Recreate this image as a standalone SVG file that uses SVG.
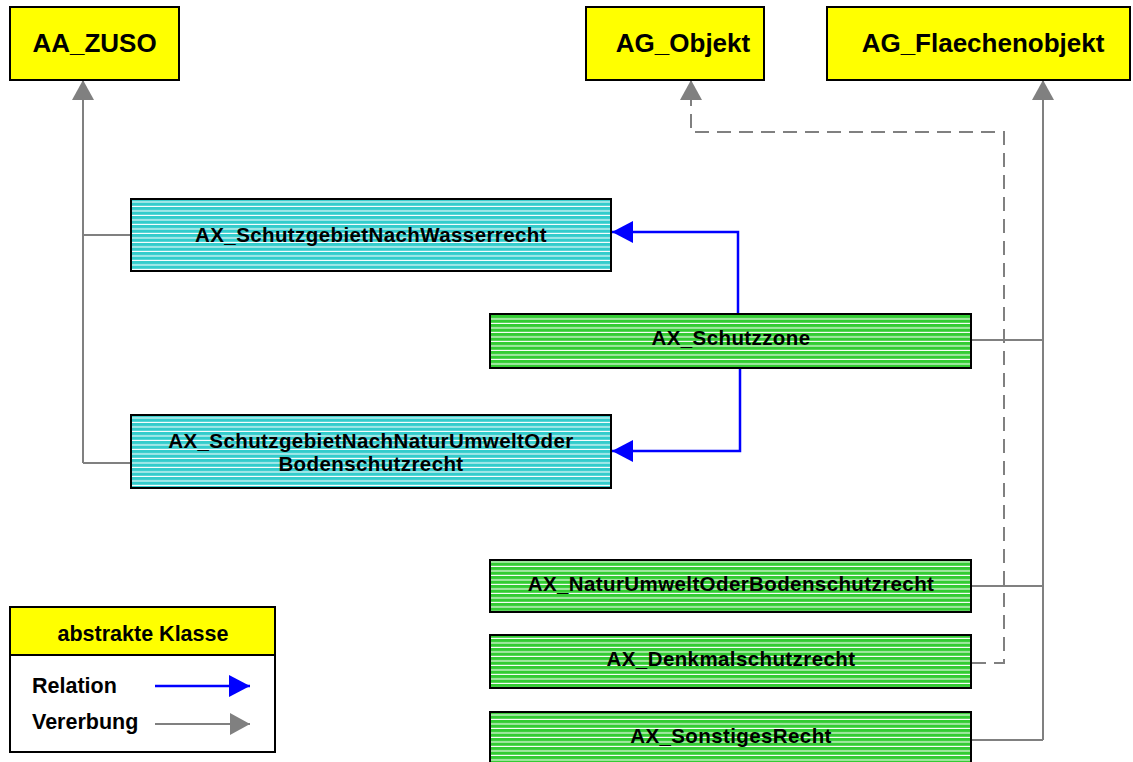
<svg xmlns="http://www.w3.org/2000/svg" width="1133" height="762" viewBox="0 0 1133 762">
<style>
  .box { stroke: #000; stroke-width: 2; }
  .abs { fill: #FFFF00; }
  .teal { fill: url(#stripeTeal); }
  .green { fill: url(#stripeGreen); }
  .t1 { font-family: "Liberation Sans", Arial, sans-serif; font-weight: bold; font-size: 26px; text-anchor: middle; fill: #000; }
  .t2 { font-family: "Liberation Sans", Arial, sans-serif; font-weight: bold; font-size: 20.5px; text-anchor: middle; fill: #000; letter-spacing: 0.4px; }
  .t3 { font-family: "Liberation Sans", Arial, sans-serif; font-weight: bold; font-size: 21.5px; fill: #000; }
  .gen { fill: none; stroke: #808080; stroke-width: 2; }
  .dash { fill: none; stroke: #808080; stroke-width: 2; stroke-dasharray: 14 8; }
  .rel { fill: none; stroke: #0000FF; stroke-width: 2.5; }
</style>
<defs>
  <pattern id="stripeTeal" patternUnits="userSpaceOnUse" width="10" height="4.5">
    <rect width="10" height="4.5" fill="#33CCCC"/>
    <rect y="3.4" width="10" height="1.1" fill="#FFFFFF"/>
  </pattern>
  <pattern id="stripeGreen" patternUnits="userSpaceOnUse" width="10" height="4.5">
    <rect width="10" height="4.5" fill="#33CC33"/>
    <rect y="3.4" width="10" height="1.1" fill="#FFFFFF"/>
  </pattern>
  <marker id="arrGray" markerUnits="userSpaceOnUse" markerWidth="22" markerHeight="22" refX="20" refY="11" orient="auto">
    <path d="M0,0 L20,11 L0,22 Z" fill="#808080"/>
  </marker>
  <marker id="arrBlue" markerUnits="userSpaceOnUse" markerWidth="22" markerHeight="22" refX="21" refY="11" orient="auto">
    <path d="M0,0 L21,11 L0,22 Z" fill="#0000FF"/>
  </marker>
</defs>
<rect width="1133" height="762" fill="#FFFFFF"/>

<g id="connectors">
  <path class="gen" d="M131,235 H83 M131,463 H83"/>
  <path class="gen" d="M83,463 V80" marker-end="url(#arrGray)"/>
  <path class="dash" d="M972,663 H1004 V132 H691 V100"/>
  <path class="gen" d="M691,104 V80" marker-end="url(#arrGray)"/>
  <path class="gen" d="M971,340 H1043 M971,586 H1043 M971,740 H1043"/>
  <path class="gen" d="M1043,740 V80" marker-end="url(#arrGray)"/>
  <path class="rel" d="M738,314 V232 H612" marker-end="url(#arrBlue)"/>
  <path class="rel" d="M740,368 V451 H612" marker-end="url(#arrBlue)"/>
</g>

<g id="AA_ZUSO">
  <rect class="box abs" x="10" y="7" width="169" height="73"/>
  <text class="t1" x="94.5" y="52">AA_ZUSO</text>
</g>
<g id="AG_Objekt">
  <rect class="box abs" x="586" y="7" width="178" height="73"/>
  <text class="t1" x="683" y="52">AG_Objekt</text>
</g>
<g id="AG_Flaechenobjekt">
  <rect class="box abs" x="827" y="7" width="303" height="73"/>
  <text class="t1" x="983" y="52">AG_Flaechenobjekt</text>
</g>

<g id="AX_SchutzgebietNachWasserrecht">
  <rect class="box teal" x="131" y="199" width="480" height="72"/>
  <text class="t2" x="371" y="242">AX_SchutzgebietNachWasserrecht</text>
</g>
<g id="AX_SchutzgebietNachNaturUmweltOderBodenschutzrecht">
  <rect class="box teal" x="131" y="415" width="480" height="73"/>
  <text class="t2" x="371" y="448">AX_SchutzgebietNachNaturUmweltOder</text>
  <text class="t2" x="371" y="471">Bodenschutzrecht</text>
</g>
<g id="AX_Schutzzone">
  <rect class="box green" x="490" y="314" width="481" height="54"/>
  <text class="t2" x="731" y="345">AX_Schutzzone</text>
</g>
<g id="AX_NaturUmweltOderBodenschutzrecht">
  <rect class="box green" x="490" y="560" width="481" height="52"/>
  <text class="t2" x="731" y="591">AX_NaturUmweltOderBodenschutzrecht</text>
</g>
<g id="AX_Denkmalschutzrecht">
  <rect class="box green" x="490" y="635" width="481" height="53"/>
  <text class="t2" x="731" y="666">AX_Denkmalschutzrecht</text>
</g>
<g id="AX_SonstigesRecht">
  <rect class="box green" x="490" y="712" width="481" height="60"/>
  <text class="t2" x="731" y="743">AX_SonstigesRecht</text>
</g>

<g id="legend">
  <rect x="10" y="607" width="265" height="145" fill="#FFFFFF" stroke="#000" stroke-width="2"/>
  <rect x="10" y="607" width="265" height="48" fill="#FFFF00" stroke="#000" stroke-width="2"/>
  <text class="t3" x="143" y="641" text-anchor="middle">abstrakte Klasse</text>
  <text class="t3" x="32" y="693">Relation</text>
  <text class="t3" x="32" y="729">Vererbung</text>
  <path class="rel" d="M155,686 H250" marker-end="url(#arrBlue)"/>
  <path class="gen" d="M155,724 H250" marker-end="url(#arrGray)"/>
</g>
</svg>
